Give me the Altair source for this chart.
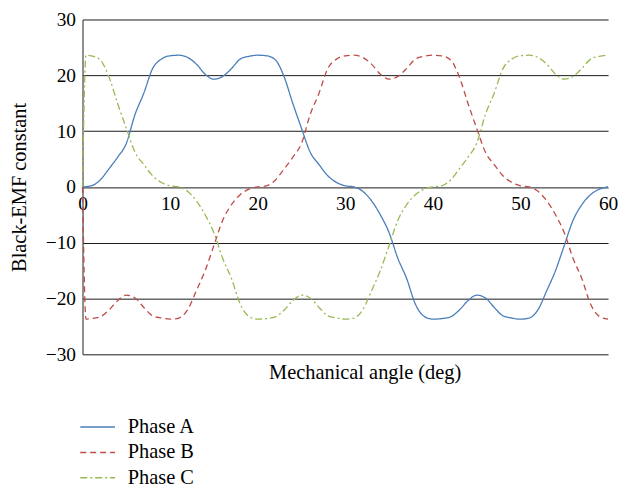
import altair as alt
import pandas as pd

# Mechanical angle (deg)
x_a = list(range(0, 61))
phase_a = [0.0, 0.2, 1.2, 3.2, 5.3, 7.8, 13.0, 16.8, 21.2, 22.9,
           23.5, 23.6, 23.2, 22.0, 20.2, 19.3, 19.8, 21.2, 22.9, 23.4,
           23.6, 23.5, 22.8, 19.8, 15.0, 10.5, 6.2, 4.0, 2.0, 0.8,
           0.2, 0.0, -0.8, -2.5, -5.0, -8.2, -12.8, -16.4, -21.0, -23.2,
           -23.7, -23.6, -23.3, -22.1, -20.4, -19.4, -19.9, -21.6, -23.1, -23.5,
           -23.7, -23.5, -22.0, -18.6, -15.0, -10.5, -6.0, -3.2, -1.4, -0.4,
           0.0]

x_bc = [0, 0.4] + list(range(1, 61))
phase_b = [0.0, -23.7, -23.6, -23.3, -22.1, -20.4, -19.4, -19.9, -21.6, -23.1, -23.5,
           -23.7, -23.5, -22.0, -18.6, -15.0, -10.5, -6.0, -3.2, -1.4, -0.4,
           0.0, 0.2, 1.2, 3.2, 5.3, 7.8, 13.0, 16.8, 21.2, 22.9,
           23.5, 23.6, 23.2, 22.0, 20.2, 19.3, 19.8, 21.2, 22.9, 23.4,
           23.6, 23.5, 22.8, 19.8, 15.0, 10.5, 6.2, 4.0, 2.0, 0.8,
           0.2, 0.0, -0.8, -2.5, -5.0, -8.2, -12.8, -16.4, -21.0, -23.2,
           -23.7]
phase_c = [0.0, 23.6, 23.5, 22.8, 19.8, 15.0, 10.5, 6.2, 4.0, 2.0, 0.8,
           0.2, 0.0, -0.8, -2.5, -5.0, -8.2, -12.8, -16.4, -21.0, -23.2,
           -23.7, -23.6, -23.3, -22.1, -20.4, -19.4, -19.9, -21.6, -23.1, -23.5,
           -23.7, -23.5, -22.0, -18.6, -15.0, -10.5, -6.0, -3.2, -1.4, -0.4,
           0.0, 0.2, 1.2, 3.2, 5.3, 7.8, 13.0, 16.8, 21.2, 22.9,
           23.5, 23.6, 23.2, 22.0, 20.2, 19.3, 19.8, 21.2, 22.9, 23.4,
           23.6]

series_names = ["Phase A", "Phase B", "Phase C"]
series_colors = ["#4A7EBB", "#BE4B48", "#98B954"]
series_dash = [[1, 0], [6, 4], [7, 3, 2, 3]]
x_ticks = [0, 10, 20, 30, 40, 50, 60]
y_ticks = [-30, -20, -10, 0, 10, 20, 30]

rows = []
for xv, yv in zip(x_a, phase_a):
    rows.append({"angle": xv, "emf": yv, "phase": "Phase A"})
for xv, yv in zip(x_bc, phase_b):
    rows.append({"angle": xv, "emf": yv, "phase": "Phase B"})
for xv, yv in zip(x_bc, phase_c):
    rows.append({"angle": xv, "emf": yv, "phase": "Phase C"})
df = pd.DataFrame(rows)

FONT = "Liberation Serif"

chart = alt.Chart(df).mark_line(strokeWidth=1.3, interpolate="monotone").encode(
    x=alt.X("angle:Q",
            scale=alt.Scale(domain=[0, 60], nice=False, zero=False),
            axis=alt.Axis(values=x_ticks, grid=False, domain=False, ticks=False,
                          offset=-168.5, labelPadding=8, labelFlush=False,
                          title="Mechanical angle (deg)",
                          titleX=284, titleY=187,
                          titleBaseline="middle", titleAlign="center")),
    y=alt.Y("emf:Q",
            scale=alt.Scale(domain=[-30, 30], nice=False),
            axis=alt.Axis(values=y_ticks, grid=True, gridColor="#1a1a1a",
                          gridWidth=1, gridOpacity=1, domain=True,
                          domainColor="#444", domainWidth=1.2, ticks=False,
                          labelPadding=7,
                          title="Black-EMF constant",
                          titleAngle=-90, titleX=-63,
                          titleY=168.5, titleBaseline="middle",
                          titleAlign="center")),
    color=alt.Color("phase:N",
                    scale=alt.Scale(domain=series_names, range=series_colors),
                    legend=alt.Legend(title=None, orient="none", legendX=5,
                                      legendY=400, symbolType="M-2,0L2,0",
                                      symbolSize=306, symbolStrokeWidth=1.5,
                                      labelFont=FONT, labelFontSize=20.5,
                                      labelColor="#000", labelOffset=20,
                                      rowPadding=4.5, padding=0)),
    strokeDash=alt.StrokeDash("phase:N",
                              scale=alt.Scale(domain=series_names, range=series_dash),
                              legend=None),
).properties(
    width=529, height=337,
    autosize=alt.AutoSizeParams(type="none"),
    padding={"left": 75, "top": 10, "right": 10, "bottom": 133},
).configure_view(stroke=None).configure_axis(
    labelFont=FONT, labelFontSize=19.5, labelColor="#000",
    titleFont=FONT, titleFontSize=20.5, titleFontWeight="normal",
    titleColor="#000", titleLimit=400,
)

chart.save("out.html", embed_options={"renderer": "svg", "actions": False})
